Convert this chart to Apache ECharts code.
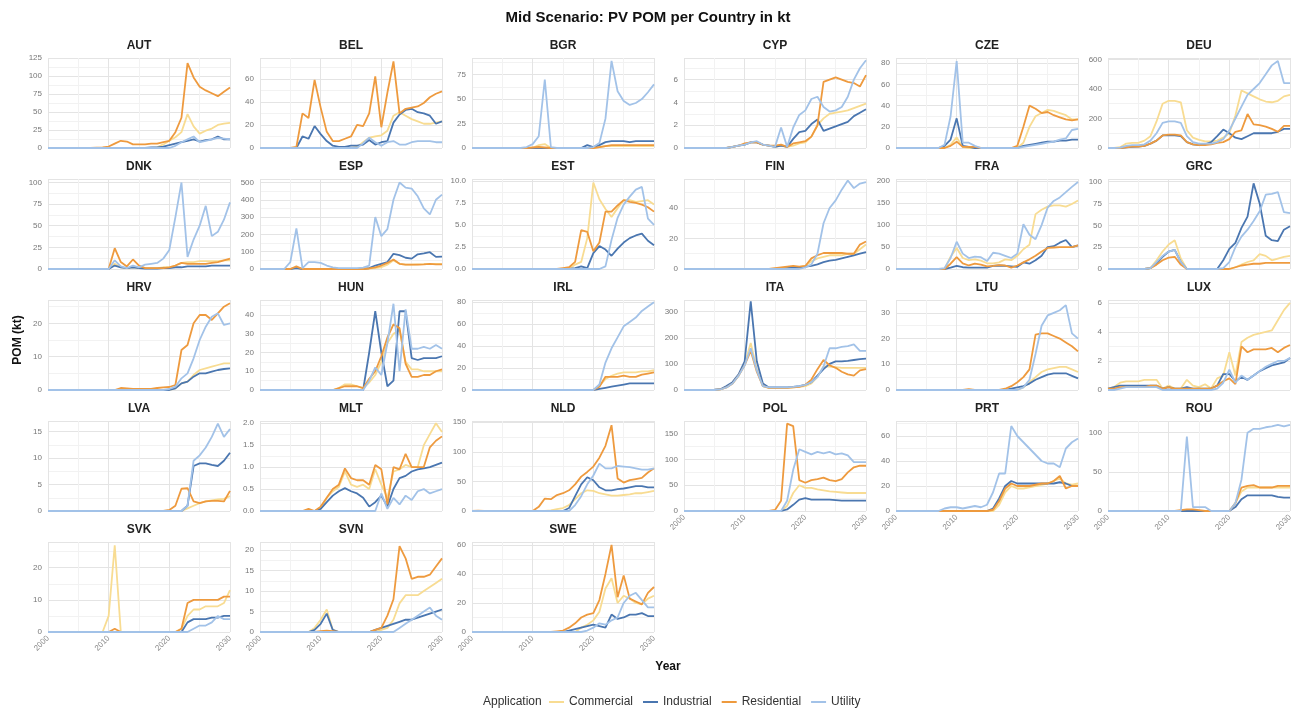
<!DOCTYPE html>
<html><head><meta charset="utf-8">
<script src="https://cdn.jsdelivr.net/npm/echarts@6/dist/echarts.min.js"></script>
<style>html,body{margin:0;padding:0;background:#fff}#chart{width:1297px;height:710px}</style>
</head><body><div id="chart"></div>
<script>
const years = [2000,2001,2002,2003,2004,2005,2006,2007,2008,2009,2010,2011,2012,2013,2014,2015,2016,2017,2018,2019,2020,2021,2022,2023,2024,2025,2026,2027,2028,2029,2030];
const seriesNames = ['Commercial','Industrial','Residential','Utility'];
const countries = ['AUT','BEL','BGR','CYP','CZE','DEU','DNK','ESP','EST','FIN','FRA','GRC','HRV','HUN','IRL','ITA','LTU','LUX','LVA','MLT','NLD','POL','PRT','ROU','SVK','SVN','SWE'];
const yMax  = [125,78,92,7.9,85,610,104,520,10.2,59,205,103,27,48,82,345,35,6.2,17,2.05,152,175,72,115,28,22,62];
const yStep = [25,20,25,2,20,200,25,100,2.5,20,50,25,10,10,20,100,10,2,5,0.5,50,50,20,50,10,5,20];

const AUT_com = [0,0,0,0,0,0,0,0,0,0, 0,0,0,0,0,0,0,0,1,5, 10,15,22,47,30,20,24,27,32,34,35];
const AUT_ind = [0,0,0,0,0,0,0,0,0,0, 0,0,0,0,0,0,0,1,1,2, 4,6,8,10,12,9,11,12,16,12,12];
const AUT_res = [0,0,0,0,0,0,0,0,0.5,1, 2,6,10,9,5,5,5,6,6,8, 10,22,42,118,98,85,80,76,72,78,84];
const AUT_uti = [0,0,0,0,0,0,0,0,0,0, 0,0,0,0,0,0,0,0,0,0, 0,3,8,12,16,8,10,12,14,13,12];

const BEL_com = [0,0,0,0,0,0,0,0,0,0, 0,0,0,0,0,0,1,5,9,10, 11,15,28,31,28,25,23,21,21,22,23];
const BEL_ind = [0,0,0,0,0,0,0,10,8,19, 12,6,2,1,1,2,2,3,7,3, 5,6,22,29,33,34,31,30,28,21,23];
const BEL_res = [0,0,0,0,0,0,1,30,26,59, 35,14,6,6,8,10,20,19,30,62, 18,48,75,30,34,35,36,39,44,47,49];
const BEL_uti = [0,0,0,0,0,0,0,0,0,0, 0,0,0,0,0,0,0,4,9,5, 2,5,6,3,3,5,6,6,6,5,5];

const BGR_com = [0,0,0,0,0,0,0,0,0,0, 0,3,4,0,0,0,0,0,0,0, 0,1,2,2,2,2,2,2,2,2,2];
const BGR_ind = [0,0,0,0,0,0,0,0,0,0, 0,0,0,0,0,0,0,0,0,3, 1,3,6,7,7,7,6,7,7,7,7];
const BGR_res = [0,0,0,0,0,0,0,0,0,0, 0.5,1,0.5,0,0,0,0,0,0,0, 0,1,2,3,3,3,3,3,3,3,3];
const BGR_uti = [0,0,0,0,0,0,0,0,0,1, 4,12,70,1,0,0,0,0,0,0, 1,5,30,89,58,48,44,46,50,57,65];

const CYP_com = [0,0,0,0,0,0,0,0,0.1,0.2, 0.3,0.5,0.5,0.3,0.2,0.1,0.2,0.1,0.2,0.4, 0.5,1.0,2.0,2.6,3.0,3.1,3.2,3.3,3.5,3.7,3.9];
const CYP_ind = [0,0,0,0,0,0,0,0,0.1,0.2, 0.3,0.5,0.5,0.3,0.2,0.1,0.2,0.1,0.8,1.4, 1.5,2.1,2.5,1.5,1.7,1.9,2.1,2.3,2.8,3.1,3.4];
const CYP_res = [0,0,0,0,0,0,0,0,0.1,0.2, 0.4,0.5,0.5,0.3,0.2,0.2,0.3,0.1,0.4,0.5, 0.6,1.0,2.0,5.8,6.0,6.2,6.0,5.8,5.7,5.4,6.4];
const CYP_uti = [0,0,0,0,0,0,0,0,0.1,0.2, 0.3,0.5,0.6,0.3,0.2,0.1,1.8,0.1,1.8,2.9, 3.3,4.3,4.5,3.6,3.2,3.3,3.6,4.5,6.0,7.0,7.7];

const CZE_com = [0,0,0,0,0,0,0,0,0,3, 10,1,0,0,0,0,0,0,0,0, 0,5,20,30,33,36,35,33,31,27,27];
const CZE_ind = [0,0,0,0,0,0,0,0,2,8, 28,2,1,0,0,0,0,0,0,0, 0,2,3,4,5,6,6,7,7,8,8];
const CZE_res = [0,0,0,0,0,0,0,0,0,2, 6,1,1,1,0,0,0,0,0,0, 2,20,40,37,33,34,31,29,27,26,27];
const CZE_uti = [0,0,0,0,0,0,0,0,3,30, 82,5,5,2,0,0,0,0,0,0, 0,1,2,3,4,5,6,8,9,17,18];

const DEU_com = [0,0,5,30,35,35,50,80,180,300, 320,320,310,120,70,55,45,45,50,70, 100,220,390,370,350,330,315,310,320,350,360];
const DEU_ind = [0,0,0,5,8,10,15,30,50,85, 85,85,80,40,25,20,25,40,80,125, 100,70,60,80,100,100,100,100,110,130,130];
const DEU_res = [0,0,0,5,10,10,15,30,50,85, 90,90,85,40,25,20,20,25,35,40, 60,110,120,230,160,155,145,130,110,150,150];
const DEU_uti = [0,0,2,15,20,20,25,50,100,170, 180,180,170,80,40,30,30,30,40,60, 120,200,280,360,400,440,500,560,590,440,440];

const DNK_com = [0,0,0,0,0,0,0,0,0,0, 0,6,2,1,2,1,1,1,1,2, 2,4,7,8,8,9,9,9,9,10,10];
const DNK_ind = [0,0,0,0,0,0,0,0,0,0, 0,4,2,1,2,1,0.5,0.5,0.5,1, 1,2,2,3,3,3,3,4,4,4,4];
const DNK_res = [0,0,0,0,0,0,0,0,0,0, 0,24,8,3,11,4,1,1,1,1, 2,4,7,6,6,6,6,7,8,10,12];
const DNK_uti = [0,0,0,0,0,0,0,0,0,0, 0,10,3,1,4,2,5,6,7,12, 22,60,100,14,34,50,73,38,43,57,77];

const ESP_com = [0,0,0,0,0,0,10,0,0,0, 0,0,0,0,0,0,0,0,3,5, 10,25,50,30,25,25,27,28,30,30,30];
const ESP_ind = [0,0,0,0,0,0,5,0,0,0, 0,0,0,0,0,0,0,0,5,20, 30,40,88,80,65,60,85,90,97,70,72];
const ESP_res = [0,0,0,0,0,0,15,0,0,0, 0,0,0,0,0,0,0,0,3,10, 20,35,55,30,25,25,25,27,30,27,27];
const ESP_uti = [0,0,0,0,0,40,235,5,40,40, 35,20,10,5,5,5,5,8,20,300, 190,230,400,500,470,465,420,350,315,400,430];

const EST_com = [0,0,0,0,0,0,0,0,0,0, 0,0,0,0,0,0,0,0.5,0.8,3.5, 9.8,7.9,6.8,5.9,6.9,7.8,7.8,7.6,7.7,7.8,7.3];
const EST_ind = [0,0,0,0,0,0,0,0,0,0, 0,0,0,0,0,0,0,0.1,0.3,0.1, 1.8,2.6,2.2,1.5,2.3,3.0,3.5,3.8,4.0,3.2,2.7];
const EST_res = [0,0,0,0,0,0,0,0,0,0, 0,0,0,0,0,0.1,0.2,0.8,4.4,4.2, 2.0,3.0,6.5,6.5,7.2,7.8,7.6,7.5,7.3,7.0,6.5];
const EST_uti = [0,0,0,0,0,0,0,0,0,0, 0,0,0,0,0,0,0,0,0,0, 0,0,0.3,3.3,5.8,7.3,8.2,9.0,9.3,5.7,5.0];

const FIN_com = [0,0,0,0,0,0,0,0,0,0, 0,0,0,0,0,0.3,0.5,1,1.5,1.2, 2,5,7,8,9,9,9,10,10,13,16];
const FIN_ind = [0,0,0,0,0,0,0,0,0,0, 0,0,0,0,0,0,0,0.5,1,1, 1.5,2,3,4.5,5.5,6,7,8,9,10,11];
const FIN_res = [0,0,0,0,0,0,0,0,0,0, 0,0,0,0,0,0.5,1,1.5,2,1.5, 2,7,9,10.5,10.5,10.5,10.5,10,10,16,18];
const FIN_uti = [0,0,0,0,0,0,0,0,0,0, 0,0,0,0,0,0,0,0,0,0, 1,3,10,30,40,45,52,58,53,56,57];

const FRA_com = [0,0,0,0,0,0,0,0,0,28, 48,25,20,22,19,13,13,15,22,20, 30,45,55,125,135,142,145,145,142,148,156];
const FRA_ind = [0,0,0,0,0,0,0,0,0,3, 7,4,3,3,3,3,7,8,7,6, 5,15,12,20,30,50,52,60,66,50,54];
const FRA_res = [0,0,0,0,0,0,0,0,0,12, 27,13,8,12,10,6,7,9,8,3, 8,15,22,30,40,48,49,50,50,50,54];
const FRA_uti = [0,0,0,0,0,0,0,0,2,25, 62,35,25,28,27,18,37,35,30,25, 35,102,78,68,100,140,155,163,175,187,198];

const GRC_com = [0,0,0,0,0,0,0,1,10,20, 28,33,12,0,0,0,0,0,0,0, 0,2,5,8,10,17,15,10,12,14,15];
const GRC_ind = [0,0,0,0,0,0,0,1,6,14, 20,22,8,0,0,0,0,0,0,10, 23,30,47,60,98,75,38,33,32,45,49];
const GRC_res = [0,0,0,0,0,0,0,1,5,10, 13,14,5,0,0,0,0,0,0,0, 0,2,4,5,6,6,7,7,7,7,7];
const GRC_uti = [0,0,0,0,0,0,0,1,8,15, 20,22,8,0,0,0,0,0,0,1, 8,25,37,45,55,66,85,86,88,65,64];

const HRV_com = [0,0,0,0,0,0,0,0,0,0, 0,0,0,0,0,0,0,0,0,0, 0,0.5,2,2.5,4.5,6,6.5,7,7.5,8,8];
const HRV_ind = [0,0,0,0,0,0,0,0,0,0, 0,0,0,0,0,0,0,0,0,0, 0,0.5,2,2.5,4,5,5,5.5,6,6.3,6.5];
const HRV_res = [0,0,0,0,0,0,0,0,0,0, 0,0,0.6,0.5,0.3,0.3,0.3,0.3,0.6,0.8, 0.9,1.5,12,13.5,20,22.5,22.5,21,23,25,26];
const HRV_uti = [0,0,0,0,0,0,0,0,0,0, 0,0,0,0,0,0,0,0,0,0, 0.3,1,3.5,5,9.5,15,19,22,23,19.5,20];

const HUN_com = [0,0,0,0,0,0,0,0,0,0, 0,0,0,1,3,3,2,1,4,8, 15,25,30,32,15,11,11,10,10,10,10];
const HUN_ind = [0,0,0,0,0,0,0,0,0,0, 0,0,0,0,0,0,0,0,20,42, 20,2,5,42,42,17,16,17,17,17,18];
const HUN_res = [0,0,0,0,0,0,0,0,0,0, 0,0,0,1,2,2,2,1,6,10, 18,28,35,33,14,7,7,8,8,10,11];
const HUN_uti = [0,0,0,0,0,0,0,0,0,0, 0,0,0,0,0,0,0,0,5,12, 8,25,46,10,43,22,22,23,22,24,22];

const IRL_com = [0,0,0,0,0,0,0,0,0,0, 0,0,0,0,0,0,0,0,0,0, 0,4,10,13,15,16,16,16,17,17,18];
const IRL_ind = [0,0,0,0,0,0,0,0,0,0, 0,0,0,0,0,0,0,0,0,0, 0,1,2,3,4,5,6,6,6,6,6];
const IRL_res = [0,0,0,0,0,0,0,0,0,0, 0,0,0,0,0,0,0,0,0,0, 0,3,12,12,12,13,12,12,14,15,16];
const IRL_uti = [0,0,0,0,0,0,0,0,0,0, 0,0,0,0,0,0,0,0,0,0, 0,5,25,38,48,58,62,66,72,76,80];

const ITA_com = [0,0,0,0,0,0,2,10,25,55, 100,180,80,15,8,8,8,8,10,12, 15,25,50,90,90,88,85,85,85,85,85];
const ITA_ind = [0,0,0,0,0,1,3,15,30,60, 110,340,110,25,10,10,10,10,12,15, 20,30,55,80,100,110,110,112,115,118,120];
const ITA_res = [0,0,0,0,0,0,2,10,25,55, 95,150,70,15,8,8,8,8,10,12, 20,40,80,115,95,85,70,60,55,75,80];
const ITA_uti = [0,0,0,0,0,0,2,10,25,55, 95,160,75,15,10,10,10,10,12,15, 20,30,50,90,160,160,165,168,175,150,150];

const LTU_com = [0,0,0,0,0,0,0,0,0,0, 0,0,0,0,0,0,0,0,0,0, 0,1,3,5,7,8,8.5,9,9,8,7];
const LTU_ind = [0,0,0,0,0,0,0,0,0,0, 0,0,0,0,0,0,0,0,0,0.5, 1,1.5,2.5,4,5,6,6.5,6.5,6.5,5.5,4.5];
const LTU_res = [0,0,0,0,0,0,0,0,0,0, 0,0,0.3,0,0,0,0,0,0.5,1.5, 3,5,8,21.5,22,22,21,20,18.5,17,15];
const LTU_uti = [0,0,0,0,0,0,0,0,0,0, 0,0,0,0,0,0,0,0,0,0, 0,1,4,14,25,29,30,31,33,22,20];

const LUX_com = [0.1,0.2,0.5,0.6,0.6,0.6,0.7,0.7,0.7,0.1, 0.3,0.1,0.1,0.7,0.3,0.2,0.4,0.1,0.8,1.0, 2.6,1.0,3.3,3.6,3.8,3.9,4.0,4.1,4.8,5.5,6.0];
const LUX_ind = [0.1,0.2,0.3,0.3,0.3,0.3,0.3,0.3,0.3,0.1, 0.2,0.1,0.1,0.2,0.1,0.1,0.1,0.1,0.3,1.1, 1.1,0.6,0.9,0.7,1.0,1.3,1.5,1.7,1.8,1.9,2.2];
const LUX_res = [0.1,0.1,0.2,0.2,0.2,0.2,0.2,0.3,0.3,0.1, 0.2,0.1,0.1,0.1,0.1,0.1,0.1,0.1,0.3,0.6, 0.8,0.4,3.0,2.6,2.8,2.8,2.8,2.9,2.6,2.9,3.1];
const LUX_uti = [0,0,0.1,0.2,0.2,0.2,0.2,0.2,0.2,0, 0,0,0,0,0,0,0,0,0.1,0.5, 1.4,0.5,1.0,0.7,1.0,1.3,1.6,1.8,2.0,2.0,2.2];

const LVA_com = [0,0,0,0,0,0,0,0,0,0, 0,0,0,0,0,0,0,0,0,0, 0,0,0,0.5,1,1.5,1.8,2,2.2,2.3,2.8];
const LVA_ind = [0,0,0,0,0,0,0,0,0,0, 0,0,0,0,0,0,0,0,0,0, 0,0,0,1,8.5,9,9,8.7,8.5,9.5,11];
const LVA_res = [0,0,0,0,0,0,0,0,0,0, 0,0,0,0,0,0,0,0,0,0, 0.2,1,4.2,4.3,1.8,1.5,1.8,1.9,1.9,1.8,3.8];
const LVA_uti = [0,0,0,0,0,0,0,0,0,0, 0,0,0,0,0,0,0,0,0,0, 0,0,0,1,9.5,10.5,12,14,16.5,14,15.5];

const MLT_com = [0,0,0,0,0,0,0,0,0,0, 0.05,0.3,0.45,0.55,0.9,0.6,0.55,0.6,0.5,0.95, 0.6,0.3,0.9,0.95,1.05,1.0,1.0,1.5,1.75,2.0,1.8];
const MLT_ind = [0,0,0,0,0,0,0,0,0,0, 0.05,0.2,0.35,0.45,0.52,0.45,0.4,0.3,0.1,0.2, 0.35,0.1,0.5,0.75,0.8,0.9,0.95,0.97,1.0,1.05,1.1];
const MLT_res = [0,0,0,0,0,0,0,0,0.05,0, 0.1,0.3,0.5,0.6,0.97,0.75,0.7,0.7,0.6,1.05, 0.95,0.15,1.0,0.95,1.3,1.0,1.0,1.0,1.45,1.6,1.7];
const MLT_uti = [0,0,0,0,0,0,0,0,0,0, 0,0,0,0,0,0,0,0,0,0, 0.4,0.05,0.3,0.15,0.35,0.25,0.45,0.5,0.4,0.45,0.5];

const NLD_com = [0,0,0,0,0,0,0,0,0,0, 0,0,0,1,3,5,10,20,30,35, 34,30,28,26,26,27,28,30,30,32,34];
const NLD_ind = [0,0,0,0,0,0,0,0,0,0, 0,0,0,0,0,0,5,25,45,57, 52,40,35,35,37,38,40,42,42,40,40];
const NLD_res = [0,0.5,0,0,0,0,0,0,0,0, 0,7,21,20,27,30,35,45,58,66, 75,90,110,145,55,48,52,54,56,65,72];
const NLD_uti = [0,0,0,0,0,0,0,0,0,0, 0,0,0,0,0,0,0,10,25,45, 60,80,72,72,76,75,74,72,70,70,72];

const POL_com = [0,0,0,0,0,0,0,0,0,0, 0,0,0,0,0,0,0,10,35,50, 45,45,42,40,38,37,36,35,35,35,35];
const POL_ind = [0,0,0,0,0,0,0,0,0,0, 0,0,0,0,0,0,0,3,12,22, 25,22,22,22,22,21,20,20,20,20,20];
const POL_res = [0,0,0,0,0,0,0,0,0,0, 0,0,0,0,0,2,20,170,165,60, 55,60,62,65,60,58,62,75,85,88,88];
const POL_uti = [0,0,0,0,0,0,0,0,0,0, 0,0,0,0,0,0,0,20,80,120, 115,110,115,112,115,110,112,108,95,95,95];

const PRT_com = [0,0,0,0,0,0,0,0,0,0, 0,0,0,0,0,0,0,5,15,20, 18,18,19,20,21,22,24,26,22,21,22];
const PRT_ind = [0,0,0,0,0,0,0,0,0,0, 0,0,0,0,0,0,2,10,20,24, 22,22,22,22,22,22,22,23,22,20,20];
const PRT_res = [0,0,0,0,0,0,0,0,0,0, 0,0,0,0,0,0,1,8,18,22, 20,20,20,21,22,22,24,28,18,20,20];
const PRT_uti = [0,0,0,0,0,0,0,0,2,3, 3,2,3,4,3,5,15,30,30,68, 60,55,50,45,40,38,38,35,50,55,58];

const ROU_com = [0,0,0,0,0,0,0,0,0,0, 0,0,0,0,0,0,0,0,0,0, 0,10,25,30,30,30,30,30,30,30,30];
const ROU_ind = [0,0,0,0,0,0,0,0,0,0, 0,0,0,0,0,0,0,0,0,0, 0,5,15,20,20,20,20,20,18,17,17];
const ROU_res = [0,0,0,0,0,0,0,0,0,0, 0,0,1,2,2,1,0,0,0,0, 0,10,30,32,33,30,30,30,32,32,32];
const ROU_uti = [0,0,0,0,0,0,0,0,0,0, 0,0,0,95,5,5,5,0,0,0, 0,10,40,100,105,105,107,108,110,108,110];

const SVK_com = [0,0,0,0,0,0,0,0,0,0, 5,27,0,0,0,0,0,0,0,0, 0,0,1,5,7,7,8,8,8,9,13];
const SVK_ind = [0,0,0,0,0,0,0,0,0,0, 0,0,0,0,0,0,0,0,0,0, 0,0,0,3,4,4,4,4.5,4.5,5,5];
const SVK_res = [0,0,0,0,0,0,0,0,0,0, 0,1,0,0,0,0,0,0,0,0, 0,0,1,9,10,10,10,10,10,11,11];
const SVK_uti = [0,0,0,0,0,0,0,0,0,0, 0,0,0,0,0,0,0,0,0,0, 0,0,0,0,1,2,2,3,5,4,4];

const SVN_com = [0,0,0,0,0,0,0,0,0,1, 3,5.5,0.5,0,0,0,0,0,0,0, 0.5,1,3,7,9,9,9,10,11,12,13];
const SVN_ind = [0,0,0,0,0,0,0,0,0,0.5, 2,4.5,0.5,0,0,0,0,0,0,0.5, 1,1.5,2,2.5,3,3,3.5,4,4.5,5,5.5];
const SVN_res = [0,0,0,0,0,0,0,0,0,0, 0.2,0.3,0.2,0,0,0,0,0,0,0.5, 1,4,8,21,18,13,13.5,13.5,14,16,18];
const SVN_uti = [0,0,0,0,0,0,0,0,0,0, 0,0,0,0,0,0,0,0,0,0, 0,0,0,1,2,3,4,5,6,4,3];

const SWE_com = [0,0,0,0,0,0,0,0,0,0, 0,0,0,0,0,0,0,0,3,5, 8,14,30,37,20,25,23,20,19,23,25];
const SWE_ind = [0,0,0,0,0,0,0,0,0,0, 0,0,0,0,0,0,1,2,3,4, 5,4,3,12,9,10,12,12,13,11,11];
const SWE_res = [0,0,0,0,0,0,0,0,0,0, 0,0,0,0,0.5,1,3,6,10,12, 13,22,40,60,24,39,23,21,19,27,31];
const SWE_uti = [0,0,0,0,0,0,0,0,0,0, 0,0,0,0,0,0,0,0,0,1, 3,6,5,8,10,20,25,27,22,17,17];

const DATA = {
  AUT:[AUT_com,AUT_ind,AUT_res,AUT_uti], BEL:[BEL_com,BEL_ind,BEL_res,BEL_uti], BGR:[BGR_com,BGR_ind,BGR_res,BGR_uti],
  CYP:[CYP_com,CYP_ind,CYP_res,CYP_uti], CZE:[CZE_com,CZE_ind,CZE_res,CZE_uti], DEU:[DEU_com,DEU_ind,DEU_res,DEU_uti],
  DNK:[DNK_com,DNK_ind,DNK_res,DNK_uti], ESP:[ESP_com,ESP_ind,ESP_res,ESP_uti], EST:[EST_com,EST_ind,EST_res,EST_uti],
  FIN:[FIN_com,FIN_ind,FIN_res,FIN_uti], FRA:[FRA_com,FRA_ind,FRA_res,FRA_uti], GRC:[GRC_com,GRC_ind,GRC_res,GRC_uti],
  HRV:[HRV_com,HRV_ind,HRV_res,HRV_uti], HUN:[HUN_com,HUN_ind,HUN_res,HUN_uti], IRL:[IRL_com,IRL_ind,IRL_res,IRL_uti],
  ITA:[ITA_com,ITA_ind,ITA_res,ITA_uti], LTU:[LTU_com,LTU_ind,LTU_res,LTU_uti], LUX:[LUX_com,LUX_ind,LUX_res,LUX_uti],
  LVA:[LVA_com,LVA_ind,LVA_res,LVA_uti], MLT:[MLT_com,MLT_ind,MLT_res,MLT_uti], NLD:[NLD_com,NLD_ind,NLD_res,NLD_uti],
  POL:[POL_com,POL_ind,POL_res,POL_uti], PRT:[PRT_com,PRT_ind,PRT_res,PRT_uti], ROU:[ROU_com,ROU_ind,ROU_res,ROU_uti],
  SVK:[SVK_com,SVK_ind,SVK_res,SVK_uti], SVN:[SVN_com,SVN_ind,SVN_res,SVN_uti], SWE:[SWE_com,SWE_ind,SWE_res,SWE_uti]
};

const colors = ['#F8DC92', '#4A76B0', '#EE9A3E', '#A2C2E8'];
const FONT = 'Liberation Sans, Arial, sans-serif';

const LEFT0 = 48, COLW = 212, PW = 182, TOP0 = 58, ROWH = 121, PH = 90;
const grids = [], xAxes = [], yAxes = [], series = [], graphics = [];

countries.forEach((c, k) => {
  const col = k % 6, row = Math.floor(k / 6);
  const left = LEFT0 + col * COLW, top = TOP0 + row * ROWH;
  grids.push({ left: left, top: top, width: PW, height: PH });
  const isBottom = row === 4 || (row === 3 && col >= 3);
  xAxes.push({
    gridIndex: k, type: 'value', min: 2000, max: 2030, interval: 10,
    axisLine: { show: false }, axisTick: { show: false },
    axisLabel: { show: isBottom, rotate: 45, fontSize: 8, color: '#888', margin: 5, fontFamily: FONT,
                 showMinLabel: true, showMaxLabel: true, formatter: v => String(v) },
    splitLine: { show: true, lineStyle: { color: '#e4e4e4', width: 1 } },
    minorTick: { show: false, splitNumber: 2 },
    minorSplitLine: { show: true, lineStyle: { color: '#f2f2f2', width: 1 } }
  });
  const step = yStep[k], dec = (step % 1 !== 0) ? 1 : 0;
  yAxes.push({
    gridIndex: k, type: 'value', min: 0, max: yMax[k], interval: step,
    axisLine: { show: false }, axisTick: { show: false },
    axisLabel: { fontSize: 8, color: '#777', margin: 6, fontFamily: FONT,
      formatter: v => { const r = v / step; return Math.abs(r - Math.round(r)) < 1e-6 ? v.toFixed(dec) : ''; } },
    splitLine: { show: true, lineStyle: { color: '#e4e4e4', width: 1 } },
    minorTick: { show: false, splitNumber: 2 },
    minorSplitLine: { show: true, lineStyle: { color: '#f2f2f2', width: 1 } }
  });
  graphics.push({ type: 'text', x: left + PW / 2, y: top - 12,
    style: { text: c, align: 'center', verticalAlign: 'middle', font: 'bold 12px ' + FONT, fill: '#222' } });
  seriesNames.forEach((s, j) => {
    series.push({
      type: 'line', name: s, xAxisIndex: k, yAxisIndex: k,
      data: years.map((y, i) => [y, DATA[c][j][i]]),
      symbol: 'none', showSymbol: false, silent: true,
      lineStyle: { width: 1.8, color: colors[j] }, itemStyle: { color: colors[j] }
    });
  });
});

graphics.push({ type: 'text', x: 648, y: 18,
  style: { text: 'Mid Scenario: PV POM per Country in kt', align: 'center', verticalAlign: 'middle', font: 'bold 15px ' + FONT, fill: '#111' } });
graphics.push({ type: 'text', x: 18, y: 340, rotation: Math.PI / 2,
  style: { text: 'POM (kt)', align: 'center', verticalAlign: 'middle', font: 'bold 12px ' + FONT, fill: '#111' } });
graphics.push({ type: 'text', x: 668, y: 667,
  style: { text: 'Year', align: 'center', verticalAlign: 'middle', font: 'bold 12px ' + FONT, fill: '#111' } });
graphics.push({ type: 'text', x: 483, y: 702,
  style: { text: 'Application', align: 'left', verticalAlign: 'middle', font: '12px ' + FONT, fill: '#333' } });

const chart = echarts.init(document.getElementById('chart'), null, { renderer: 'canvas' });
chart.setOption({
  animation: false,
  backgroundColor: '#fff',
  color: colors,
  grid: grids, xAxis: xAxes, yAxis: yAxes, series: series,
  legend: {
    data: seriesNames, left: 549, top: 696, padding: 0, itemWidth: 15, itemHeight: 2, icon: 'rect', itemGap: 10,
    textStyle: { fontSize: 12, color: '#333', fontFamily: FONT }, selectedMode: false
  },
  graphic: graphics
});
</script>
</body></html>
